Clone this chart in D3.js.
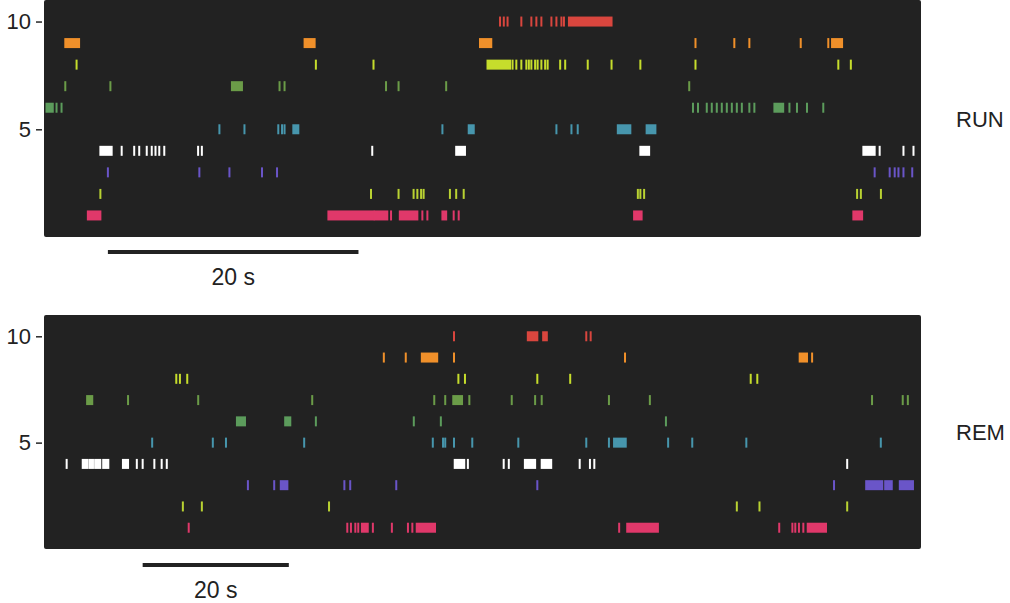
<!DOCTYPE html>
<meta charset="utf-8">
<script src="https://d3js.org/d3.v7.min.js"></script>
<style>
  body { margin: 0; background: #fff; }
  text { font-family: "Liberation Sans", Arial, sans-serif; fill: #222; }
</style>
<div id="chart"></div>
<script>

// cell ids, top to bottom, and one colour per cell
var cellIds = [10, 9, 8, 7, 6, 5, 4, 3, 2, 1];
var cellColors = ["#d9463e", "#f0902a", "#c6dd2c", "#6b9c48", "#5c9c5c",
                  "#4796ad", "#ffffff", "#6a55c8", "#b9d232", "#e0386a"];
var yTicks = [5, 10];

// spike times in seconds; [start, end] = burst too dense to split
var runTrains = [
  [36.4, 36.7, 37.0, 38.1, 38.9, 39.3, 39.7, 40.5, 40.9, 41.3, 41.5, [41.9, 45.3]],
  [[1.7, 2.8], [20.8, 21.6], [34.8, 35.7], 52.0, 55.1, 56.3, 60.4, 62.6, [62.9, 63.7]],
  [2.6, 21.7, 26.3, [35.4, 37.2], 37.4, 37.7, 38.1, 38.5, 38.7, 38.9, 39.2, 39.4, 39.7, 40.0,
   40.2, 41.2, 41.6, 43.4, 45.3, 47.6, 52.0, 63.4, 64.4],
  [1.7, 5.3, [15.0, 15.8], 18.8, 19.2, 27.3, 28.3, 32.1, 51.5],
  [[0.2, 0.7], 1.0, 1.4, 51.8, 52.2, 52.9, 53.3, 53.7, 54.1, 54.5, 54.9, 55.3, 55.7, 56.3,
   56.7, [58.3, 59.0], 59.5, 60.1, 60.9, 62.2],
  [14.0, 16.0, 18.7, 19.0, 19.2, [19.9, 20.3], 31.8, [33.9, 34.3], 40.9, 42.1, 42.6,
   [45.8, 46.8], [48.1, 48.8]],
  [[4.5, 5.4], 6.2, 7.2, 7.6, 8.2, 8.6, 8.9, 9.2, 9.6, 12.3, 12.6, 26.2, [32.9, 33.6],
   [47.6, 48.3], [65.4, 66.3], 66.7, 68.6, 69.4],
  [5.1, 12.4, 14.8, 17.4, 18.6, 66.3, 67.5, 67.9, 68.2, 68.6, 69.3],
  [4.5, 26.1, 28.3, 29.5, 29.8, 30.1, 30.3, 32.4, 32.9, 33.5, 47.4, 47.6, 47.9, 64.9, 65.2, 66.8],
  [[3.5, 4.5], [22.7, 26.3], [26.4, 27.4], 27.7, [28.4, 29.8], 30.2, 30.6, [31.8, 32.1],
   32.7, 33.1, [47.1, 47.7], [64.6, 65.3]]
];

var remTrains = [
  [56.1, [66.2, 67.5], [68.3, 68.8], 74.2, 74.8],
  [46.5, 49.5, [51.7, 53.8], 56.1, 79.5, [103.4, 104.4], 105.1],
  [18.1, 18.6, 19.6, 56.7, 57.6, 67.5, 72.0, 96.7, 97.6],
  [[5.9, 6.6], 11.5, 21.1, 36.7, 53.4, 54.9, [56.0, 57.2], 58.2, 64.0, 67.2, 68.1, 77.3,
   82.9, 113.3, 117.5, 118.2],
  [[26.4, 27.5], [33.0, 33.7], 37.2, 50.6, 54.3, 85.1],
  [14.8, 23.1, 24.9, 35.6, 53.2, 54.6, 54.9, 56.1, 58.6, 64.9, 74.2, 77.3, [78.0, 79.6],
   85.4, 88.7, 96.1, 114.5],
  [3.1, [5.3, 5.9], [6.2, 6.7], [7.0, 7.7], [8.1, 8.8], [10.8, 11.5], 12.7, 13.5, 15.1,
   16.1, 16.8, [56.2, 57.5], 58.0, 62.9, 63.6, [65.8, 67.2], [68.1, 69.4], 73.3, 74.7,
   75.3, 109.9],
  [27.9, 31.5, [32.4, 33.3], 41.1, 41.9, 48.2, 67.5, 108.1, [112.5, 114.7], [115.1, 116.0],
   [117.1, 118.9]],
  [19.0, 21.6, 39.0, 94.8, 97.9, 109.9],
  [19.8, 41.5, 42.0, 42.6, 43.0, [43.5, 44.3], 45.0, 47.6, 49.8, 50.4, [51.0, 53.5], 78.7,
   [79.8, 84.0], 100.6, 102.4, 102.8, 103.3, 103.9, [104.5, 107.0]]
];

var runSpan = 70, remSpan = 120;   // seconds shown in each panel
var scaleBarSec = 20;
var runBarStart = 5.1, remBarStart = 13.5;

var W = 1010, H = 603;
var svg = d3.select("#chart").append("svg")
    .attr("width", W)
    .attr("height", H);

function drawPanel(trains, span, top, bottom, label, barStart, barY, textY) {
  var left = 44, right = 921;

  var x = d3.scaleLinear().domain([0, span]).range([left, right]);
  var y = d3.scaleLinear().domain([0, 11]).range([bottom, top]);

  var g = svg.append("g");

  g.append("rect")
    .attr("x", left)
    .attr("y", top)
    .attr("width", right - left)
    .attr("height", bottom - top)
    .attr("rx", 2)
    .attr("fill", "#222222");

  // y axis: only 5 and 10 marked
  var axis = g.append("g")
    .attr("transform", "translate(" + (left - 2) + ",0)")
    .call(d3.axisLeft(y).tickValues(yTicks).tickSize(6).tickPadding(5));
  axis.select(".domain").remove();
  axis.selectAll("line").attr("stroke", "#333").attr("stroke-width", 1.6);
  axis.selectAll("text")
    .attr("font-size", 22)
    .attr("fill", "#222")
    .style("font-family", "'Liberation Sans', Arial, sans-serif");

  // spikes
  trains.forEach(function(train, i) {
    var id = cellIds[i];
    g.append("g")
      .selectAll("rect")
      .data(train)
      .enter().append("rect")
        .attr("x", function(d) {
          var a = Array.isArray(d) ? d[0] : d;
          return x(a) - 1;
        })
        .attr("y", y(id) - 5)
        .attr("width", function(d) {
          if (!Array.isArray(d)) return 2;
          return Math.max(2, x(d[1]) - x(d[0]) + 2);
        })
        .attr("height", 10)
        .attr("fill", cellColors[i]);
  });

  // scale bar
  g.append("line")
    .attr("x1", x(barStart))
    .attr("x2", x(barStart + scaleBarSec))
    .attr("y1", barY)
    .attr("y2", barY)
    .attr("stroke", "#222")
    .attr("stroke-width", 4);

  g.append("text")
    .attr("x", (x(barStart) + x(barStart + scaleBarSec)) / 2)
    .attr("y", textY)
    .attr("text-anchor", "middle")
    .attr("font-size", 23)
    .text(scaleBarSec + " s");

  g.append("text")
    .attr("x", 956)
    .attr("y", (top + bottom) / 2 + 8)
    .attr("font-size", 22)
    .text(label);
}

drawPanel(runTrains, runSpan, 0, 237, "RUN", runBarStart, 252, 285);
drawPanel(remTrains, remSpan, 315, 549, "REM", remBarStart, 565, 598);

</script>
